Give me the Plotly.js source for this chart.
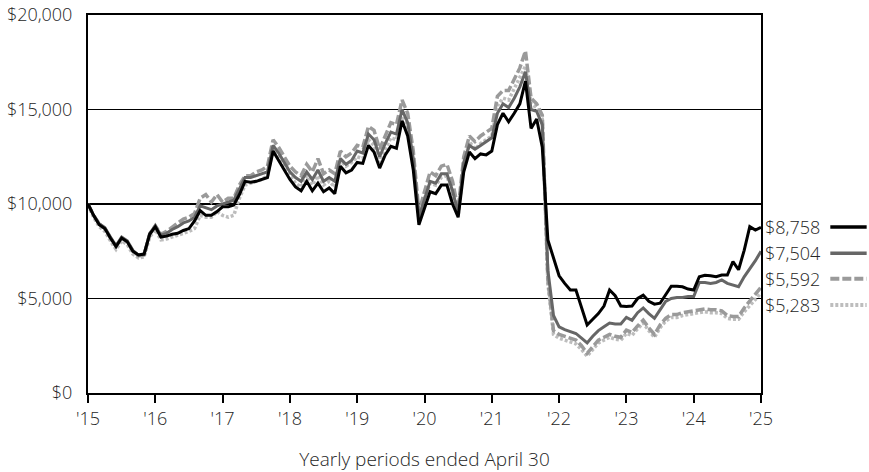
<!DOCTYPE html>
<html>
<head>
<meta charset="utf-8">
<script src="https://cdn.plot.ly/plotly-3.0.1.min.js"></script>
<style>html,body{margin:0;padding:0;background:#fff;}#chart{width:869px;height:472px;}</style>
</head>
<body>
<div id="chart"></div>
<script>
// Monthly growth of $10,000, April 2015 - April 2025
var seriesA = [10000,9400,8900,8700,8200,7750,8200,8000,7500,7300,7350,8400,
8800,8250,8300,8400,8450,8600,8700,9100,9650,9400,9400,9600,
9850,9850,9950,10500,11200,11150,11200,11300,11400,12800,12300,11800,
11300,10900,10700,11200,10700,11100,10650,10850,10550,12000,11650,11800,
12200,12150,13100,12750,11900,12600,13050,12950,14400,13600,11800,8900,
9800,10650,10550,11000,11000,10000,9300,11700,12750,12400,12650,12600,
12800,14200,14800,14350,14800,15300,16500,14000,14500,13000,8100,7200,
6200,5800,5450,5450,4500,3600,3900,4200,4600,5450,5150,4600,
4580,4600,5000,5180,4850,4700,4750,5200,5650,5650,5620,5500,
5450,6150,6230,6200,6150,6240,6240,6950,6520,7550,8800,8620,
8758];
var seriesB = [10000,9400,8950,8750,8250,7800,8250,8050,7550,7300,7350,8450,
8850,8350,8450,8650,8800,9000,9100,9300,9900,9800,9700,9900,
10000,10100,10200,10800,11400,11400,11500,11600,11700,13100,12700,12200,
11700,11400,11200,11700,11300,11800,11200,11400,11200,12400,12100,12300,
12800,12700,13700,13400,12500,13200,13800,13700,15000,14300,12400,9300,
10300,11200,11100,11600,11600,10700,9500,12200,13100,12900,13100,13300,
13500,14800,15300,15100,15600,16200,17000,15000,14900,14200,6500,4100,
3500,3350,3250,3150,2900,2650,3000,3300,3500,3700,3650,3650,
4000,3850,4250,4500,4200,3950,4400,4850,5000,5050,5050,5100,
5100,5850,5850,5800,5850,5980,5800,5700,5620,6150,6550,7000,
7504];
var seriesC = [10000,9400,8950,8700,8200,7750,8200,8000,7500,7250,7300,8400,
8850,8400,8550,8800,9000,9200,9300,9500,10300,10500,10100,10500,
10100,10300,10300,11000,11500,11500,11700,11800,12000,13400,13000,12500,
12000,11700,11500,12100,11700,12400,11600,11800,11600,12800,12500,12700,
13100,13000,14100,13900,12900,13600,14300,14200,15500,14800,12800,9600,
10700,11700,11500,12000,12100,11200,9700,12500,13600,13300,13600,13800,
14000,15700,16000,16000,16600,17200,18100,15600,15300,14700,6000,3300,
3100,3000,2900,2800,2500,2100,2450,2800,2950,3100,3000,2950,
3330,3200,3550,3850,3450,3100,3600,3950,4150,4150,4250,4300,
4350,4400,4450,4400,4400,4350,4100,4050,4050,4500,4850,5200,
5592];
var seriesD = [9950,9300,8800,8550,8050,7600,8050,7850,7350,7150,7200,8250,
8650,8100,8150,8250,8350,8450,8550,8700,9400,9300,9300,9600,
9400,9300,9400,10300,11000,11100,11200,11300,11500,12900,12500,12000,
11500,11100,10900,11500,11000,11500,11000,11200,10900,12300,12000,12200,
12500,12400,13400,13100,12200,12900,13500,13400,14800,14000,12200,9200,
10300,11100,11000,11400,11500,10500,9400,12100,13300,12900,13200,13400,
13600,15200,15600,15500,16100,16600,17300,15300,15100,14500,5800,3100,
2900,2800,2700,2600,2300,1950,2300,2650,2800,2950,2850,2800,
3150,3050,3400,3700,3300,2950,3450,3800,4000,4000,4100,4150,
4200,4250,4300,4250,4250,4200,3950,3900,3900,4300,4600,4950,
5283];
var tickYears = ["'15","'16","'17","'18","'19","'20","'21","'22","'23","'24","'25"];
var xTitle = "Yearly periods ended April 30";

var months = seriesA.map(function(_, i){ return i; });
var tickPos = tickYears.map(function(_, i){ return i * 12; });

var styles = [
  {data: seriesD, color: '#bdbdbd', width: 3.5, dash: '3px,2px'},
  {data: seriesC, color: '#9a9a9a', width: 3.5, dash: '9px,3px'},
  {data: seriesB, color: '#666666', width: 3, dash: 'solid'},
  {data: seriesA, color: '#000000', width: 3, dash: 'solid'}
];
var traces = styles.map(function(s){
  return {x: months, y: s.data, type: 'scatter', mode: 'lines',
    line: {color: s.color, width: s.width, dash: s.dash}, hoverinfo: 'skip', showlegend: false};
});

function fmt(v){ return '$' + v.toLocaleString('en-US'); }

var txtFont = {family: 'Open Sans', size: 18, color: '#262626', weight: 300};

var legendOrder = [seriesA, seriesB, seriesC, seriesD];
var legendStyle = [styles[3], styles[2], styles[1], styles[0]];
var legY = [0.439, 0.370, 0.302, 0.233];
var annotations = [], shapes = [];
legendOrder.forEach(function(arr, k){
  annotations.push({xref: 'paper', yref: 'paper', x: 1.003, y: legY[k], xanchor: 'left', yanchor: 'middle',
    text: fmt(arr[arr.length - 1]), showarrow: false, font: txtFont});
  var st = legendStyle[k];
  shapes.push({type: 'line', xref: 'paper', yref: 'paper', x0: 1.103, x1: 1.157, y0: legY[k], y1: legY[k],
    line: {color: st.color, width: st.width + 0.5, dash: st.dash}});
});

var layout = {
  width: 869, height: 472,
  margin: {l: 88, r: 108, t: 15, b: 79},
  paper_bgcolor: '#ffffff', plot_bgcolor: '#ffffff',
  font: txtFont,
  xaxis: {range: [0, 120], tickvals: tickPos, ticktext: tickYears,
    showgrid: false, zeroline: false, showline: true, linecolor: '#000', linewidth: 2, mirror: true,
    ticks: 'outside', ticklen: 8, tickwidth: 2, tickcolor: '#000',
    tickfont: txtFont,
    title: {text: xTitle, font: {family: 'Open Sans', size: 19, color: '#262626', weight: 300}, standoff: 24}},
  yaxis: {range: [0, 20000], dtick: 5000, tick0: 0, tickprefix: '$', tickformat: ',d',
    showgrid: true, gridcolor: '#000', gridwidth: 1.5, zeroline: false,
    showline: true, linecolor: '#000', linewidth: 2, mirror: true, ticks: '', ticklabelstandoff: 10,
    tickfont: txtFont},
  annotations: annotations, shapes: shapes,
  showlegend: false
};
Plotly.newPlot('chart', traces, layout, {displayModeBar: false, staticPlot: true});
</script>
</body>
</html>
